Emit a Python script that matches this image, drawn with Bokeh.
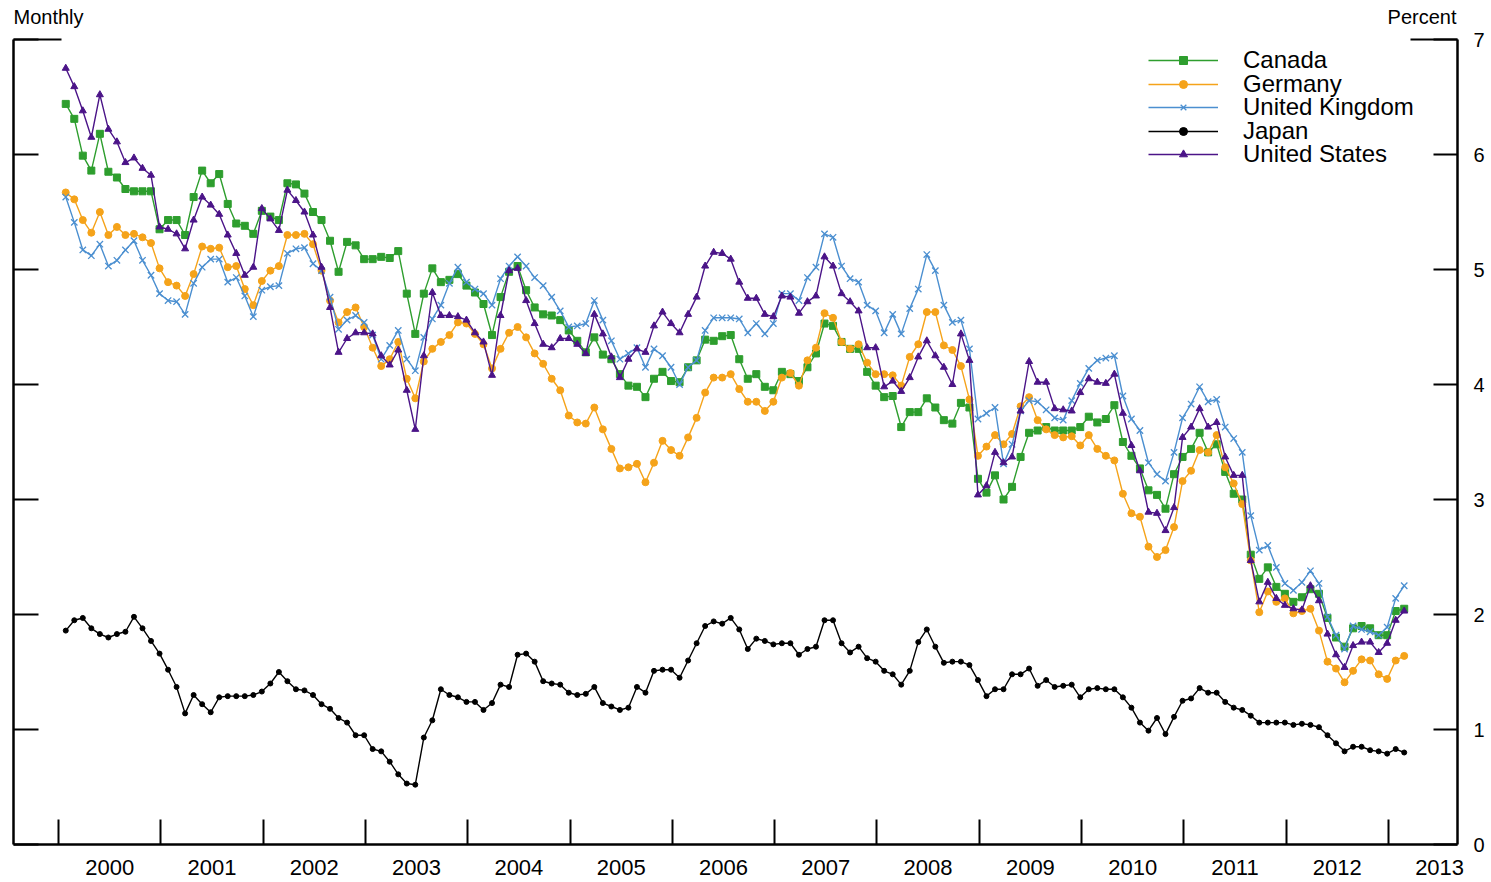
from bokeh.plotting import figure
from bokeh.models import (Range1d, LinearAxis, FixedTicker, CustomJSTickFormatter, Label,
                          ColumnDataSource, Legend, LegendItem)
from bokeh.embed import file_html
from bokeh.resources import INLINE

# Monthly values, Jan 2000 .. Feb 2013 (percent)
canada = [6.44, 6.31, 5.99, 5.86, 6.18, 5.85, 5.80, 5.70, 5.68, 5.68, 5.68, 5.35,
          5.43, 5.43, 5.30, 5.63, 5.86, 5.75, 5.83, 5.57, 5.40, 5.38, 5.31, 5.51,
          5.46, 5.43, 5.75, 5.74, 5.66, 5.50, 5.43, 5.25, 4.98, 5.24, 5.21, 5.09,
          5.09, 5.11, 5.10, 5.16, 4.79, 4.44, 4.79, 5.01, 4.89, 4.91, 4.96, 4.86,
          4.80, 4.70, 4.43, 4.76, 4.98, 5.03, 4.82, 4.67, 4.61, 4.60, 4.56, 4.47,
          4.38, 4.28, 4.41, 4.26, 4.22, 4.09, 3.99, 3.98, 3.89, 4.05, 4.11, 4.03,
          4.02, 4.15, 4.21, 4.39, 4.38, 4.42, 4.43, 4.22, 4.05, 4.09, 3.98, 3.95,
          4.11, 4.09, 4.03, 4.15, 4.27, 4.53, 4.51, 4.37, 4.31, 4.31, 4.11, 3.99,
          3.89, 3.90, 3.63, 3.76, 3.76, 3.88, 3.80, 3.69, 3.66, 3.84, 3.80, 3.18,
          3.06, 3.21, 3.00, 3.11, 3.37, 3.58, 3.60, 3.63, 3.60, 3.60, 3.60, 3.63,
          3.72, 3.67, 3.70, 3.82, 3.50, 3.38, 3.27, 3.08, 3.04, 2.92, 3.22, 3.37,
          3.44, 3.58, 3.41, 3.48, 3.24, 3.05, 3.00, 2.52, 2.31, 2.41, 2.24, 2.18,
          2.11, 2.15, 2.22, 2.18, 1.97, 1.80, 1.72, 1.88, 1.90, 1.88, 1.82, 1.82,
          2.03, 2.05]

germany = [5.67, 5.61, 5.43, 5.32, 5.50, 5.30, 5.37, 5.30, 5.31, 5.28, 5.23, 5.01,
           4.89, 4.86, 4.77, 4.96, 5.20, 5.18, 5.19, 5.02, 5.03, 4.83, 4.69, 4.90,
           4.99, 5.03, 5.30, 5.30, 5.31, 5.22, 4.99, 4.73, 4.54, 4.63, 4.67, 4.50,
           4.32, 4.16, 4.22, 4.37, 4.05, 3.88, 4.20, 4.31, 4.37, 4.43, 4.54, 4.53,
           4.44, 4.35, 4.14, 4.31, 4.45, 4.50, 4.41, 4.27, 4.18, 4.05, 3.95, 3.73,
           3.67, 3.66, 3.80, 3.61, 3.44, 3.27, 3.28, 3.31, 3.15, 3.32, 3.51, 3.43,
           3.38, 3.54, 3.71, 3.93, 4.06, 4.06, 4.09, 3.96, 3.85, 3.85, 3.77, 3.85,
           4.06, 4.10, 3.99, 4.21, 4.32, 4.62, 4.58, 4.37, 4.31, 4.35, 4.19, 4.09,
           4.09, 4.08, 3.99, 4.24, 4.35, 4.63, 4.63, 4.34, 4.30, 4.16, 3.87, 3.38,
           3.46, 3.56, 3.48, 3.57, 3.81, 3.89, 3.69, 3.61, 3.56, 3.54, 3.55, 3.47,
           3.56, 3.44, 3.38, 3.34, 3.05, 2.88, 2.85, 2.59, 2.50, 2.56, 2.76, 3.16,
           3.25, 3.43, 3.41, 3.56, 3.28, 3.14, 2.96, 2.47, 2.02, 2.20, 2.11, 2.14,
           2.01, 2.03, 2.05, 1.86, 1.59, 1.53, 1.41, 1.51, 1.61, 1.60, 1.48, 1.44,
           1.60, 1.64]

united_kingdom = [5.63, 5.41, 5.17, 5.12, 5.22, 5.03, 5.08, 5.17, 5.25, 5.08, 4.95, 4.79,
                  4.73, 4.72, 4.61, 4.88, 5.02, 5.09, 5.09, 4.89, 4.93, 4.77, 4.59, 4.82,
                  4.85, 4.86, 5.14, 5.18, 5.19, 5.05, 4.99, 4.76, 4.48, 4.56, 4.60, 4.54,
                  4.43, 4.22, 4.34, 4.47, 4.22, 4.12, 4.41, 4.57, 4.69, 4.88, 5.02, 4.89,
                  4.83, 4.79, 4.69, 4.92, 5.03, 5.11, 5.03, 4.93, 4.86, 4.76, 4.64, 4.50,
                  4.51, 4.53, 4.73, 4.56, 4.38, 4.22, 4.27, 4.32, 4.15, 4.31, 4.25, 4.15,
                  4.00, 4.15, 4.21, 4.47, 4.58, 4.58, 4.58, 4.57, 4.45, 4.53, 4.44, 4.53,
                  4.79, 4.79, 4.73, 4.93, 5.02, 5.31, 5.28, 5.03, 4.92, 4.89, 4.69, 4.64,
                  4.45, 4.61, 4.44, 4.66, 4.83, 5.13, 4.99, 4.69, 4.54, 4.56, 4.31, 3.70,
                  3.75, 3.80, 3.31, 3.48, 3.77, 3.86, 3.85, 3.78, 3.71, 3.69, 3.86, 4.01,
                  4.14, 4.21, 4.23, 4.25, 3.90, 3.70, 3.60, 3.32, 3.22, 3.16, 3.41, 3.71,
                  3.83, 3.98, 3.85, 3.87, 3.63, 3.53, 3.41, 2.86, 2.56, 2.60, 2.41, 2.27,
                  2.21, 2.28, 2.38, 2.27, 1.98, 1.82, 1.70, 1.90, 1.87, 1.85, 1.82, 1.89,
                  2.14, 2.25]

japan = [1.86, 1.95, 1.97, 1.88, 1.83, 1.80, 1.83, 1.85, 1.98, 1.88, 1.77, 1.66,
         1.52, 1.37, 1.14, 1.30, 1.22, 1.15, 1.28, 1.29, 1.29, 1.29, 1.30, 1.33,
         1.40, 1.50, 1.42, 1.35, 1.34, 1.30, 1.22, 1.18, 1.10, 1.06, 0.95, 0.95,
         0.83, 0.81, 0.72, 0.61, 0.53, 0.52, 0.93, 1.08, 1.35, 1.30, 1.28, 1.24,
         1.24, 1.17, 1.23, 1.39, 1.37, 1.65, 1.66, 1.59, 1.42, 1.40, 1.39, 1.32,
         1.30, 1.31, 1.37, 1.23, 1.20, 1.17, 1.19, 1.37, 1.32, 1.51, 1.52, 1.52,
         1.45, 1.60, 1.75, 1.90, 1.94, 1.92, 1.97, 1.87, 1.70, 1.79, 1.77, 1.74,
         1.75, 1.75, 1.65, 1.70, 1.72, 1.95, 1.95, 1.75, 1.67, 1.72, 1.62, 1.59,
         1.51, 1.48, 1.39, 1.51, 1.76, 1.87, 1.72, 1.58, 1.59, 1.59, 1.56, 1.43,
         1.29, 1.35, 1.35, 1.48, 1.48, 1.53, 1.38, 1.43, 1.37, 1.38, 1.39, 1.28,
         1.35, 1.36, 1.35, 1.35, 1.28, 1.19, 1.06, 0.99, 1.10, 0.96, 1.11, 1.25,
         1.27, 1.36, 1.32, 1.32, 1.24, 1.19, 1.17, 1.12, 1.06, 1.06, 1.06, 1.06,
         1.04, 1.05, 1.04, 1.02, 0.95, 0.88, 0.81, 0.85, 0.85, 0.82, 0.81, 0.79,
         0.83, 0.80]

united_states = [6.75, 6.59, 6.38, 6.15, 6.52, 6.22, 6.11, 5.93, 5.97, 5.88, 5.82, 5.37,
                 5.35, 5.31, 5.18, 5.43, 5.63, 5.56, 5.48, 5.30, 5.14, 4.95, 5.02, 5.53,
                 5.44, 5.34, 5.69, 5.60, 5.50, 5.30, 5.02, 4.67, 4.28, 4.40, 4.45, 4.45,
                 4.44, 4.25, 4.17, 4.30, 3.95, 3.61, 4.25, 4.80, 4.60, 4.60, 4.59, 4.56,
                 4.45, 4.37, 4.08, 4.60, 4.99, 5.01, 4.73, 4.53, 4.35, 4.32, 4.40, 4.40,
                 4.35, 4.27, 4.61, 4.44, 4.24, 4.06, 4.22, 4.31, 4.28, 4.51, 4.63, 4.53,
                 4.45, 4.61, 4.76, 5.03, 5.15, 5.14, 5.09, 4.89, 4.75, 4.75, 4.61, 4.59,
                 4.77, 4.76, 4.62, 4.72, 4.77, 5.11, 5.03, 4.79, 4.72, 4.64, 4.32, 4.32,
                 3.98, 4.03, 3.94, 4.06, 4.24, 4.38, 4.25, 4.15, 4.00, 4.44, 4.21, 3.04,
                 3.12, 3.41, 3.32, 3.37, 3.77, 4.20, 4.02, 4.02, 3.79, 3.78, 3.77, 3.93,
                 4.05, 4.02, 4.01, 4.09, 3.75, 3.47, 3.25, 2.89, 2.88, 2.73, 2.93, 3.54,
                 3.63, 3.79, 3.63, 3.67, 3.37, 3.21, 3.21, 2.47, 2.11, 2.28, 2.14, 2.08,
                 2.05, 2.04, 2.25, 2.12, 1.83, 1.65, 1.54, 1.73, 1.76, 1.76, 1.67, 1.75,
                 1.95, 2.03]

years = list(range(2000, 2014))
year_labels = [str(y) for y in years]
y_ticks = list(range(0, 8))

n = len(canada)
months = [2000 + (i + 0.85) / 12 for i in range(n)]

FONT = "Liberation Sans"
X0, X1 = 1999.56, 2013.675
YTOP = 7 + 39 / 115.0   # headroom above the 7 tick for the "Monthly"/"Percent" captions
FRAME_H = 844

p = figure(frame_width=1444, frame_height=FRAME_H,
           x_range=Range1d(X0, X1), y_range=Range1d(0, YTOP),
           output_backend="svg", toolbar_location=None,
           min_border_left=13, min_border_top=0, min_border_right=0, min_border_bottom=37)
p.xgrid.visible = False
p.ygrid.visible = False
p.outline_line_color = None
p.background_fill_color = "white"
p.border_fill_color = "white"

# bottom axis: ticks at year boundaries, labels at mid-year
xa = p.xaxis[0]
xa.ticker = FixedTicker(ticks=[y + 0.5 for y in years], minor_ticks=years)
xa.major_label_overrides = {y + 0.5: s for y, s in zip(years, year_labels)}
xa.major_tick_in = 0
xa.major_tick_out = 0
xa.minor_tick_in = 25
xa.minor_tick_out = 0
xa.minor_tick_line_width = 2
xa.minor_tick_line_color = "black"
xa.axis_line_width = 2.5
xa.axis_line_color = "black"
xa.major_label_text_font = FONT
xa.major_label_text_font_size = "22px"
xa.major_label_text_color = "black"
xa.major_label_standoff = 15

# left axis: no labels
ya = p.yaxis[0]
ya.ticker = FixedTicker(ticks=y_ticks, minor_ticks=[7])
ya.bounds = (0, 7)
ya.major_tick_in = 25
ya.major_tick_out = 0
ya.minor_tick_in = 48
ya.minor_tick_out = 0
ya.major_tick_line_width = 2
ya.minor_tick_line_width = 2
ya.minor_tick_line_color = "black"
ya.axis_line_width = 2.5
ya.formatter = CustomJSTickFormatter(code="return ''")
ya.major_label_standoff = 0

# right axis with labels
ra = LinearAxis(ticker=FixedTicker(ticks=y_ticks, minor_ticks=[7]), bounds=(0, 7))
ra.major_tick_in = 24
ra.major_tick_out = 0
ra.minor_tick_in = 47
ra.minor_tick_out = 0
ra.major_tick_line_width = 2
ra.minor_tick_line_width = 2
ra.minor_tick_line_color = "black"
ra.axis_line_width = 2.5
ra.major_label_text_font = FONT
ra.major_label_text_font_size = "20px"
ra.major_label_text_color = "black"
ra.major_label_standoff = 16
p.add_layout(ra, "right")

series = [
    ("Canada", canada, "#2e9e2e", "square", 7),
    ("Germany", germany, "#f5a31a", "circle", 7),
    ("United Kingdom", united_kingdom, "#4b8fd0", "x", 9),
    ("Japan", japan, "black", "circle", 5),
    ("United States", united_states, "#4b1488", "triangle", 7),
]

# legend rows (centre, in px from the top of the frame)
row_centres = [60, 83.5, 107, 130.5, 154]

for (name, vals, color, marker, size), rc in zip(series, row_centres):
    src = ColumnDataSource(dict(x=months, y=vals))
    r_line = p.line("x", "y", source=src, line_color=color, line_width=1.4)
    if marker == "x":
        r_mk = p.scatter("x", "y", source=src, marker=marker, size=size, line_color=color,
                         line_width=1.3)
    else:
        r_mk = p.scatter("x", "y", source=src, marker=marker, size=size, fill_color=color,
                         line_color=color)
    lg = Legend(items=[LegendItem(label=name, renderers=[r_line, r_mk])],
                location=(1135, FRAME_H - rc - 14),
                background_fill_alpha=0, border_line_color=None,
                padding=0, margin=0, spacing=0,
                glyph_width=70, glyph_height=20, label_height=20,
                label_standoff=25, label_text_font=FONT,
                label_text_font_size="24px", label_text_color="black")
    p.add_layout(lg, "center")

p.add_layout(Label(x=X0, y=7.2, text="Monthly", text_font=FONT, text_font_size="20px",
                   text_baseline="middle", text_align="left", text_color="black"))
p.add_layout(Label(x=X1, y=7.2, x_offset=-1, text="Percent", text_font=FONT,
                   text_font_size="20px", text_baseline="middle", text_align="right",
                   text_color="black"))

open("out.html", "w").write(file_html(p, INLINE))
